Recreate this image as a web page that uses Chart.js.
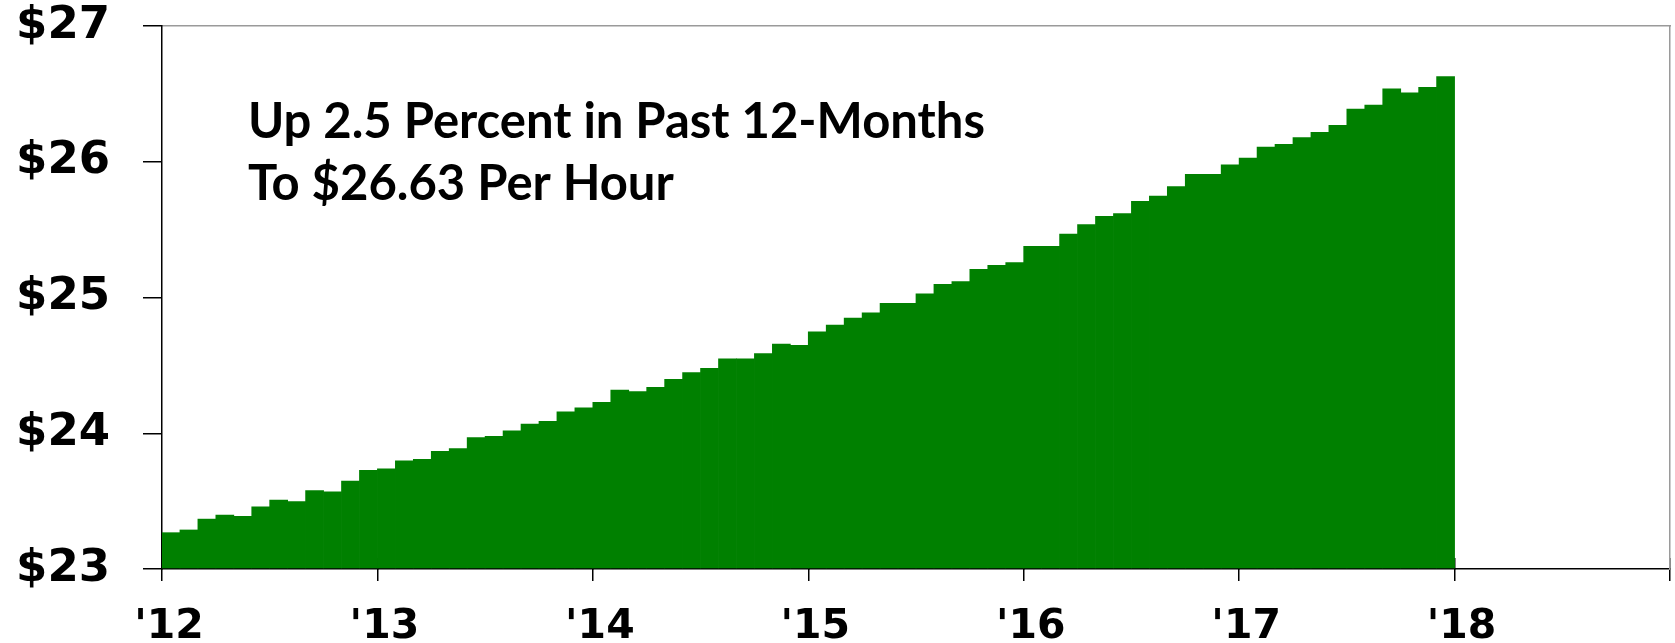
<!DOCTYPE html>
<html lang="en">
<head>
  <meta charset="UTF-8" />
  <title>Average Hourly Earnings</title>
  <script src="https://cdn.jsdelivr.net/npm/chart.js"></script>
  <style>
    html, body { margin: 0; padding: 0; background: #fff; }
    #wrap { width: 1675px; height: 643px; }
  </style>
</head>
<body>
  <div id="wrap"><canvas id="grafica"></canvas></div>

  <script>
    // monthly average hourly earnings, Jan 2012 .. Dec 2017
    const months = [
      'Jan 12','Feb 12','Mar 12','Apr 12','May 12','Jun 12','Jul 12','Aug 12','Sep 12','Oct 12','Nov 12','Dec 12',
      'Jan 13','Feb 13','Mar 13','Apr 13','May 13','Jun 13','Jul 13','Aug 13','Sep 13','Oct 13','Nov 13','Dec 13',
      'Jan 14','Feb 14','Mar 14','Apr 14','May 14','Jun 14','Jul 14','Aug 14','Sep 14','Oct 14','Nov 14','Dec 14',
      'Jan 15','Feb 15','Mar 15','Apr 15','May 15','Jun 15','Jul 15','Aug 15','Sep 15','Oct 15','Nov 15','Dec 15',
      'Jan 16','Feb 16','Mar 16','Apr 16','May 16','Jun 16','Jul 16','Aug 16','Sep 16','Oct 16','Nov 16','Dec 16',
      'Jan 17','Feb 17','Mar 17','Apr 17','May 17','Jun 17','Jul 17','Aug 17','Sep 17','Oct 17','Nov 17','Dec 17'
    ];
    const earnings = [
      23.27, 23.29, 23.37, 23.40, 23.39, 23.46, 23.51, 23.50, 23.58, 23.57, 23.65, 23.73,
      23.74, 23.80, 23.81, 23.87, 23.89, 23.97, 23.98, 24.02, 24.07, 24.09, 24.16, 24.19,
      24.23, 24.32, 24.31, 24.34, 24.40, 24.45, 24.48, 24.55, 24.55, 24.59, 24.66, 24.65,
      24.75, 24.80, 24.85, 24.89, 24.96, 24.96, 25.03, 25.10, 25.12, 25.21, 25.24, 25.26,
      25.38, 25.38, 25.47, 25.54, 25.60, 25.62, 25.71, 25.75, 25.82, 25.91, 25.91, 25.98,
      26.03, 26.11, 26.13, 26.18, 26.22, 26.27, 26.39, 26.42, 26.54, 26.51, 26.55, 26.63
    ];
    const yearLabels = ["'12", "'13", "'14", "'15", "'16", "'17", "'18", ""];
    const yTicks = [23, 24, 25, 26, 27];
    const noteLines = ['Up 2.5 Percent in Past 12-Months', 'To $26.63 Per Hour'];

    // texto dentro del área del gráfico
    const notePlugin = {
      id: 'note',
      afterDatasetsDraw(chart) {
        const { ctx, chartArea } = chart;
        ctx.save();
        ctx.font = 'bold 49px Lato';
        ctx.fillStyle = '#000';
        ctx.textBaseline = 'alphabetic';
        noteLines.forEach((t, i) => ctx.fillText(t, chartArea.left + 86, chartArea.top + 112 + i * 62));
        ctx.restore();
      }
    };

    const ctx = document.getElementById('grafica').getContext('2d');
    new Chart(ctx, {
      type: 'bar',
      data: {
        datasets: [{
          label: 'Average hourly earnings',
          data: earnings.map((v, i) => ({ x: i + 0.5, y: v })),
          backgroundColor: '#008000',
          borderWidth: 0,
          barPercentage: 1.04,
          categoryPercentage: 1,
          base: 23
        }]
      },
      plugins: [notePlugin],
      options: {
        responsive: true,
        maintainAspectRatio: false,
        animation: false,
        layout: { padding: { top: 0, right: 5, left: 0, bottom: 0 } },
        plugins: { legend: { display: false }, tooltip: { enabled: false } },
        scales: {
          x: {
            type: 'linear',
            min: 0,
            max: months.length + 12,
            offset: false,
            afterFit: s => { s.height = 74; s.paddingLeft = 0; s.paddingRight = 0; },
            grid: { offset: false, drawOnChartArea: false, drawTicks: true, tickLength: 12, color: '#000', lineWidth: 1.5 },
            border: { color: '#000', width: 1.5 },
            ticks: {
              stepSize: 12,
              autoSkip: false,
              maxRotation: 0,
              padding: 22,
              labelOffset: 7,
              color: '#000',
              font: { family: 'DejaVu Sans', weight: 'bold', size: 41 },
              callback: (v, i) => yearLabels[i] ?? ''
            }
          },
          // short inner part of the year ticks
          xInner: {
            type: 'linear',
            position: { y: 23.08 },
            min: 0,
            max: months.length + 12,
            offset: false,
            grid: { offset: false, drawOnChartArea: false, drawTicks: true, tickLength: 12, color: '#000', lineWidth: 1.5 },
            border: { display: false },
            ticks: { stepSize: 12, autoSkip: false, display: false }
          },
          x2: {
            type: 'linear',
            position: 'top',
            min: 0,
            max: 1,
            afterFit: s => { s.height = 0; },
            grid: { display: false, drawTicks: false },
            ticks: { display: false },
            border: { color: '#9a9a9a', width: 1.5 }
          },
          y: {
            min: yTicks[0],
            max: yTicks[yTicks.length - 1],
            afterFit: s => { s.width = 162; s.paddingTop = 26; s.paddingBottom = 0; },
            grid: { drawOnChartArea: false, drawTicks: true, tickLength: 19, color: '#000', lineWidth: 1.5 },
            border: { color: '#000', width: 1.5 },
            ticks: {
              stepSize: 1,
              padding: 33,
              color: '#000',
              font: { family: 'DejaVu Sans', weight: 'bold', size: 45 },
              callback: v => '$' + v
            }
          },
          y2: {
            type: 'linear',
            position: 'right',
            min: 0,
            max: 1,
            afterFit: s => { s.width = 0; s.paddingTop = 0; s.paddingBottom = 0; },
            grid: { display: false, drawTicks: false },
            ticks: { display: false },
            border: { color: '#9a9a9a', width: 1.5 }
          }
        }
      }
    });
  </script>
</body>
</html>
